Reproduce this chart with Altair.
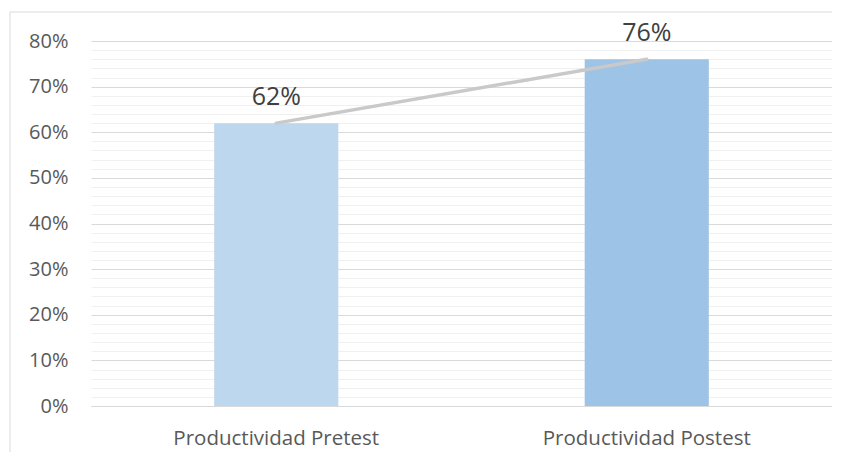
import altair as alt
import pandas as pd

categories = ["Productividad Pretest", "Productividad Postest"]
values = [0.62, 0.76]
bar_colors = ["#BDD7EE", "#9DC3E6"]
y_ticks = [i / 50 for i in range(0, 41)]

df = pd.DataFrame({"cat": categories, "val": values, "color": bar_colors})

FONT = "Open Sans"

x_enc = alt.X(
    "cat:N", sort=categories,
    scale=alt.Scale(paddingInner=0.665, paddingOuter=0.3325),
    axis=alt.Axis(
        title=None, labelAngle=0, ticks=False, domainColor="#D9D9D9", domainWidth=1,
        labelFont=FONT, labelFontSize=20.5, labelColor="#595959", labelPadding=22,
        grid=False, labelLimit=400, labelOverlap=False,
    ),
)
y_enc = alt.Y(
    "val:Q",
    scale=alt.Scale(domain=[0, 0.8], nice=False),
    axis=alt.Axis(
        title=None,
        values=y_ticks,
        labelExpr="round(datum.value*100) % 10 === 0 ? format(datum.value, '.0%') : ''",
        ticks=False, domain=False, labelOverlap=False, labelBound=False,
        labelFont=FONT, labelFontSize=20, labelColor="#595959", labelPadding=23,
        gridColor={"condition": {"test": "round(datum.value*100) % 10 === 0", "value": "#D9D9D9"}, "value": "#F0F0F0"},
        gridWidth=1,
    ),
)

base = alt.Chart(df).encode(x=x_enc, y=y_enc)

bars = base.mark_bar().encode(color=alt.Color("color:N", scale=None, legend=None))
line = base.mark_line(color="#C9C9C9", strokeWidth=3.5, strokeCap="round")
labels = base.mark_text(
    font=FONT, fontSize=25, color="#404040", baseline="alphabetic", dy=-18
).encode(text=alt.Text("val:Q", format=".0%"))

border = alt.Chart(pd.DataFrame({"a": [0]})).mark_rect(
    fill=None, stroke="#D9D9D9", strokeWidth=1, clip=False
).encode(
    x=alt.value(-81), x2=alt.value(760), y=alt.value(-29), y2=alt.value(440)
)

chart = alt.layer(bars, line, labels, border).properties(
    width=741, height=365,
    autosize=alt.AutoSizeParams(type="none"),
    padding={"left": 83, "top": 33, "right": 0, "bottom": 46},
    background="white",
).configure_view(stroke=None)

chart.save("out.html", embed_options={"renderer": "svg", "actions": False})
